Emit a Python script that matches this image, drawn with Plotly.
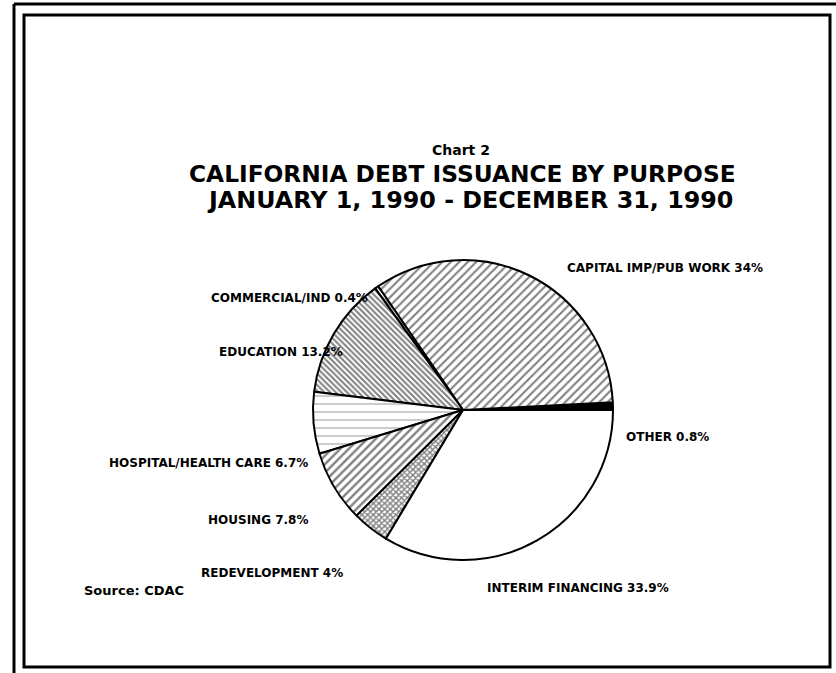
import plotly.graph_objects as go

# ---- data ----
purposes = ["OTHER", "CAPITAL IMP/PUB WORK", "COMMERCIAL/IND", "EDUCATION",
            "HOSPITAL/HEALTH CARE", "HOUSING", "REDEVELOPMENT", "INTERIM FINANCING"]
shares = [0.8, 34, 0.4, 13.2, 6.7, 7.8, 4, 33.9]

title_small = "Chart 2"
title_line1 = "CALIFORNIA DEBT ISSUANCE BY PURPOSE"
title_line2 = "JANUARY 1, 1990 - DECEMBER 31, 1990"
source_note = "Source: CDAC"

# ---- styles ----
W, H = 836, 673
fill_colors = ["black", "white", "white", "white", "white", "white", "white", "white"]
shapes_pat = ["", "/", "\\", "\\", "-", "/", "x", ""]
pat_sizes = [8, 6, 4, 4, 8, 6, 4, 8]
pat_solid = [0.3, 0.35, 0.5, 0.5, 0.1, 0.4, 0.6, 0.3]

# label positions (pixels) and anchors
label_pos = {
    "OTHER": (624, 437, "left"),
    "CAPITAL IMP/PUB WORK": (565, 268, "left"),
    "COMMERCIAL/IND": (370, 298, "right"),
    "EDUCATION": (345, 352, "right"),
    "HOSPITAL/HEALTH CARE": (310, 463, "right"),
    "HOUSING": (310, 520, "right"),
    "REDEVELOPMENT": (345, 573, "right"),
    "INTERIM FINANCING": (485, 588, "left"),
}

def px(x):
    return x / W

def py(y):
    return 1 - y / H

cx, cy, r = 463, 410, 150

fig = go.Figure(go.Pie(
    labels=purposes,
    values=shares,
    sort=False,
    direction="counterclockwise",
    rotation=87,
    textinfo="none",
    hoverinfo="label+value",
    showlegend=False,
    domain=dict(x=[px(cx - r), px(cx + r)], y=[py(cy + r), py(cy - r)]),
    marker=dict(
        colors=fill_colors,
        line=dict(color="black", width=2),
        pattern=dict(shape=shapes_pat, fgcolor="black", size=pat_sizes,
                     solidity=pat_solid, fillmode="overlay"),
    ),
))

label_font = "DejaVu Sans, Verdana, sans-serif"
title_font = "DejaVu Sans, Verdana, sans-serif"
annotations = []
for name, val in zip(purposes, shares):
    x, y, anc = label_pos[name]
    annotations.append(dict(
        x=px(x), y=py(y), xref="paper", yref="paper",
        text=f"<b>{name} {val:g}%</b>", showarrow=False,
        xanchor=anc, yanchor="middle",
        font=dict(family=label_font, size=12, color="black"),
    ))

annotations += [
    dict(x=px(461), y=py(150), xref="paper", yref="paper", text=f"<b>{title_small}</b>",
         showarrow=False, xanchor="center", yanchor="middle",
         font=dict(family=title_font, size=14, color="black")),
    dict(x=px(462), y=py(174), xref="paper", yref="paper", text=f"<b>{title_line1}</b>",
         showarrow=False, xanchor="center", yanchor="middle",
         font=dict(family=title_font, size=23.3, color="black")),
    dict(x=px(470), y=py(200), xref="paper", yref="paper", text=f"<b>{title_line2}</b>",
         showarrow=False, xanchor="center", yanchor="middle",
         font=dict(family=title_font, size=23.8, color="black")),
    dict(x=px(82), y=py(590), xref="paper", yref="paper", text=f"<b>{source_note}</b>",
         showarrow=False, xanchor="left", yanchor="middle",
         font=dict(family=label_font, size=13, color="black")),
]

frame = [
    # outer frame (partial, runs off the page)
    dict(type="line", xref="paper", yref="paper", x0=px(14), x1=px(14), y0=py(4), y1=0,
         line=dict(color="black", width=3)),
    dict(type="line", xref="paper", yref="paper", x0=px(14), x1=1, y0=py(4), y1=py(4),
         line=dict(color="black", width=3)),
    # inner frame
    dict(type="rect", xref="paper", yref="paper", x0=px(24), x1=px(830), y0=py(667), y1=py(15),
         line=dict(color="black", width=3), fillcolor="rgba(0,0,0,0)"),
]

fig.update_layout(
    width=W, height=H,
    margin=dict(l=0, r=0, t=0, b=0),
    paper_bgcolor="white", plot_bgcolor="white",
    annotations=annotations,
    shapes=frame,
)

fig.write_html("out.html", config={"displayModeBar": False},
               post_script="document.body.style.margin='0';")
